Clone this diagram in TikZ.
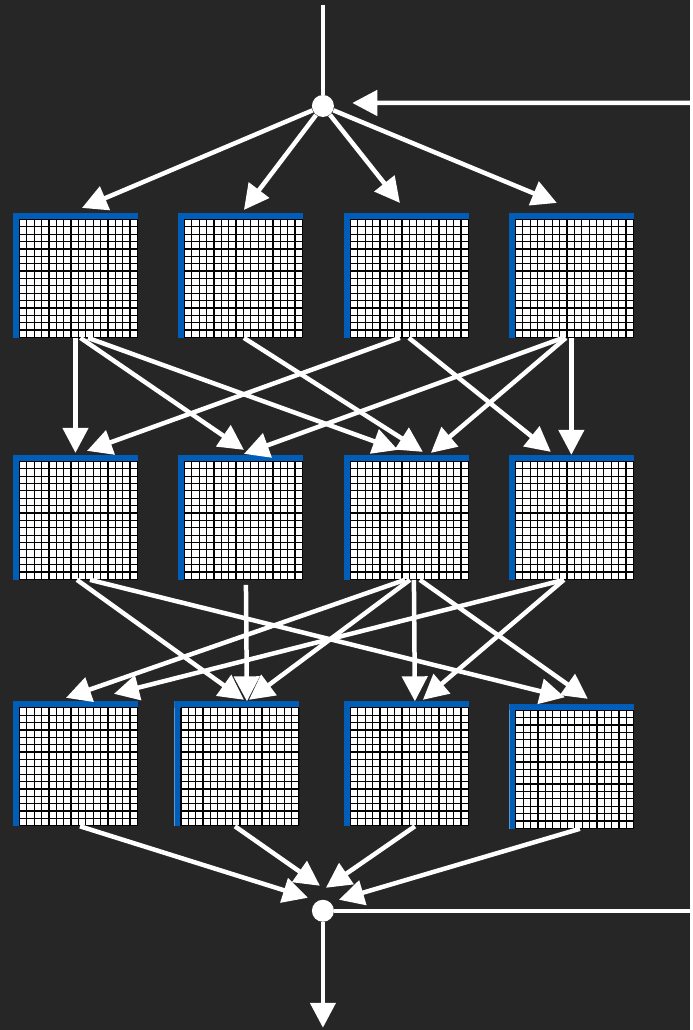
\documentclass[tikz,border=0pt]{standalone}
\usetikzlibrary{arrows.meta,calc}
\definecolor{bgdark}{HTML}{262626}
\definecolor{netblue}{HTML}{005EB8}
\tikzset{
  cellgrid/.style={minimum width=2.5cm, minimum height=2.5cm, inner sep=0pt, outer sep=0pt, fill=white,
    path picture={
      \fill[netblue] (path picture bounding box.north west) rectangle ++(2.5,-0.13);
      \fill[netblue] (path picture bounding box.north west) rectangle ++(0.13,-2.5);
      \foreach \k in {0,...,16} {
        \draw[line width=0.7pt] ($(path picture bounding box.north west)+(0.13+\k*0.1475,-0.13)$) -- ++(0,-2.37);
        \draw[line width=0.7pt] ($(path picture bounding box.north west)+(0.13,-0.13-\k*0.1475)$) -- ++(2.37,0);
      }
    }},
  wire/.style={draw=white, line width=0.09cm},
  flow/.style={wire, -{Triangle[length=0.5cm,width=0.5cm]}},
  junction/.style={circle, fill=white, minimum size=0.44cm, inner sep=0pt}
}
\begin{document}
\begin{tikzpicture}[x=1cm,y=1cm]
\fill[bgdark] (0,0) rectangle (13.8,20.6);
\node[junction] (split) at (6.46,18.48) {};
\node[junction] (merge) at (6.46,2.38) {};
\node[cellgrid] (a1) at (1.51,15.09) {};
\node[cellgrid] (a2) at (4.81,15.09) {};
\node[cellgrid] (a3) at (8.13,15.09) {};
\node[cellgrid] (a4) at (11.43,15.09) {};
\node[cellgrid] (b1) at (1.51,10.25) {};
\node[cellgrid] (b2) at (4.81,10.25) {};
\node[cellgrid] (b3) at (8.13,10.25) {};
\node[cellgrid] (b4) at (11.43,10.25) {};
\node[cellgrid] (c1) at (1.51,5.32) {};
\node[cellgrid] (c2) at (4.74,5.32) {};
\node[cellgrid] (c3) at (8.13,5.32) {};
\node[cellgrid] (c4) at (11.44,5.27) {};
\coordinate (in) at (6.46,20.5);
\coordinate (back) at (13.8,18.54);
\coordinate (loop) at (13.8,2.38);
\coordinate (out) at (6.46,0.04);
\draw[wire] (in) -- (split);
\draw[flow] (back) -- ([xshift=0.36cm,yshift=0.06cm]split.east);
\draw[flow] (split) -- ([xshift=0.13cm,yshift=0.1cm]a1.north);
\draw[flow] (split) -- ([xshift=0.07cm,yshift=0.06cm]a2.north);
\draw[flow] (split) -- ([xshift=-0.13cm,yshift=0.2cm]a3.north);
\draw[flow] (split) -- ([xshift=-0.29cm,yshift=0.2cm]a4.north);
\draw[flow] (a1.south) -- ([yshift=0.04cm]b1.north);
\draw[flow] ([xshift=0.1cm]a1.south) -- ([xshift=0.07cm,yshift=0.1cm]b2.north);
\draw[flow] ([xshift=0.25cm]a1.south) -- ([xshift=-0.17cm,yshift=0.1cm]b3.north);
\draw[flow] ([xshift=0.07cm]a2.south) -- ([xshift=0.33cm,yshift=0.06cm]b3.north);
\draw[flow] ([xshift=-0.13cm]a3.south) -- ([xshift=0.23cm,yshift=0.08cm]b1.north);
\draw[flow] ([xshift=0.05cm]a3.south) -- ([xshift=-0.41cm,yshift=0.06cm]b4.north);
\draw[flow] ([xshift=-0.17cm]a4.south) -- ([xshift=0.07cm,yshift=0.02cm]b2.north);
\draw[flow] ([xshift=-0.11cm]a4.south) -- ([xshift=0.49cm,yshift=0.04cm]b3.north);
\draw[flow] (a4.south) -- (b4.north);
\draw[flow] ([xshift=0.03cm]b1.south) -- ([xshift=0.14cm,yshift=0.03cm]c2.north);
\draw[flow] ([xshift=0.29cm]b1.south) -- ([xshift=-0.14cm,yshift=0.13cm]c4.north);
\draw[flow] ([xshift=0.11cm,yshift=-0.1cm]b2.south) -- ([xshift=0.2cm]c2.north);
\draw[flow] ([xshift=-0.03cm]b3.south) -- ([xshift=-0.19cm,yshift=0.07cm]c1.north);
\draw[flow] ([xshift=0.07cm]b3.south) -- ([xshift=0.24cm,yshift=0.03cm]c2.north);
\draw[flow] ([xshift=0.15cm]b3.south) -- ([xshift=0.17cm]c3.north);
\draw[flow] ([xshift=0.27cm]b3.south) -- ([xshift=0.32cm,yshift=0.1cm]c4.north);
\draw[flow] ([xshift=-0.15cm]b4.south) -- ([xshift=0.77cm,yshift=0.15cm]c1.north);
\draw[flow] ([xshift=-0.15cm]b4.south) -- ([xshift=0.33cm,yshift=0.03cm]c3.north);
\draw[flow] ([xshift=0.09cm]c1.south) -- ([xshift=-0.3cm,yshift=0.26cm]merge.center);
\draw[flow] ([xshift=-0.04cm]c2.south) -- ([xshift=-0.06cm,yshift=0.5cm]merge.center);
\draw[flow] ([xshift=0.17cm]c3.south) -- ([xshift=0.06cm,yshift=0.46cm]merge.center);
\draw[flow] ([xshift=0.16cm]c4.south) -- ([xshift=0.32cm,yshift=0.22cm]merge.center);
\draw[wire] (merge) -- (loop);
\draw[flow] (merge) -- (out);
\end{tikzpicture}
\end{document}
